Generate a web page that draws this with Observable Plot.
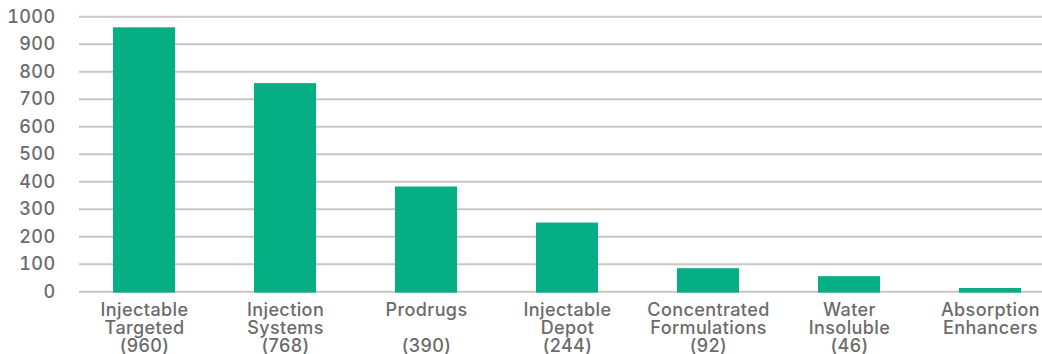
<!DOCTYPE html>
<html>
<head>
<meta charset="utf-8">
<script src="https://cdn.jsdelivr.net/npm/d3@7"></script>
<script src="https://cdn.jsdelivr.net/npm/@observablehq/plot@0.6"></script>
<style>
  html, body { margin: 0; padding: 0; background: #ffffff; }
  svg text { letter-spacing: 0.4px; font-weight: 500; }
</style>
</head>
<body>
<div id="chart"></div>
<script>
const categories = [
  "Injectable Targeted",
  "Injection Systems",
  "Prodrugs",
  "Injectable Depot",
  "Concentrated Formulations",
  "Water Insoluble",
  "Absorption Enhancers"
];
const values = [960, 757, 381, 250, 84, 55, 12];
const tickLabels = [
  "Injectable\nTargeted\n(960)",
  "Injection\nSystems\n(768)",
  "Prodrugs\n\n(390)",
  "Injectable\nDepot\n(244)",
  "Concentrated\nFormulations\n(92)",
  "Water\nInsoluble\n(46)",
  "Absorption\nEnhancers"
];
const yTicks = [0, 100, 200, 300, 400, 500, 600, 700, 800, 900, 1000];

const data = categories.map((c, i) => ({category: c, value: values[i]}));

const chart = Plot.plot({
  width: 1042,
  height: 354,
  marginLeft: 79,
  marginRight: 0,
  marginTop: 16,
  marginBottom: 62,
  style: {
    fontFamily: "Inter, sans-serif",
    fontSize: "18px",
    color: "#6b6b6b",
    background: "#ffffff"
  },
  x: {domain: categories, range: [113, 1021], paddingInner: 0.56, paddingOuter: 0, round: false, axis: null},
  y: {domain: [0, 1000], range: [291.3, 16.3], axis: null},
  marks: [
    Plot.ruleY(yTicks, {stroke: "#c9c5c1", strokeWidth: 2}),
    Plot.barY(data, {x: "category", y: "value", fill: "#06ae84", insetBottom: -1.3}),
    Plot.axisY({ticks: yTicks, tickSize: 0, tickPadding: 24, fontSize: 18, label: null, tickFormat: d => String(d)}),
    Plot.axisX({
      tickSize: 0,
      tickPadding: 11,
      fontSize: 18,
      lineHeight: 1,
      label: null,
      tickFormat: d => tickLabels[categories.indexOf(d)]
    })
  ]
});
document.getElementById("chart").appendChild(chart);
</script>
</body>
</html>
